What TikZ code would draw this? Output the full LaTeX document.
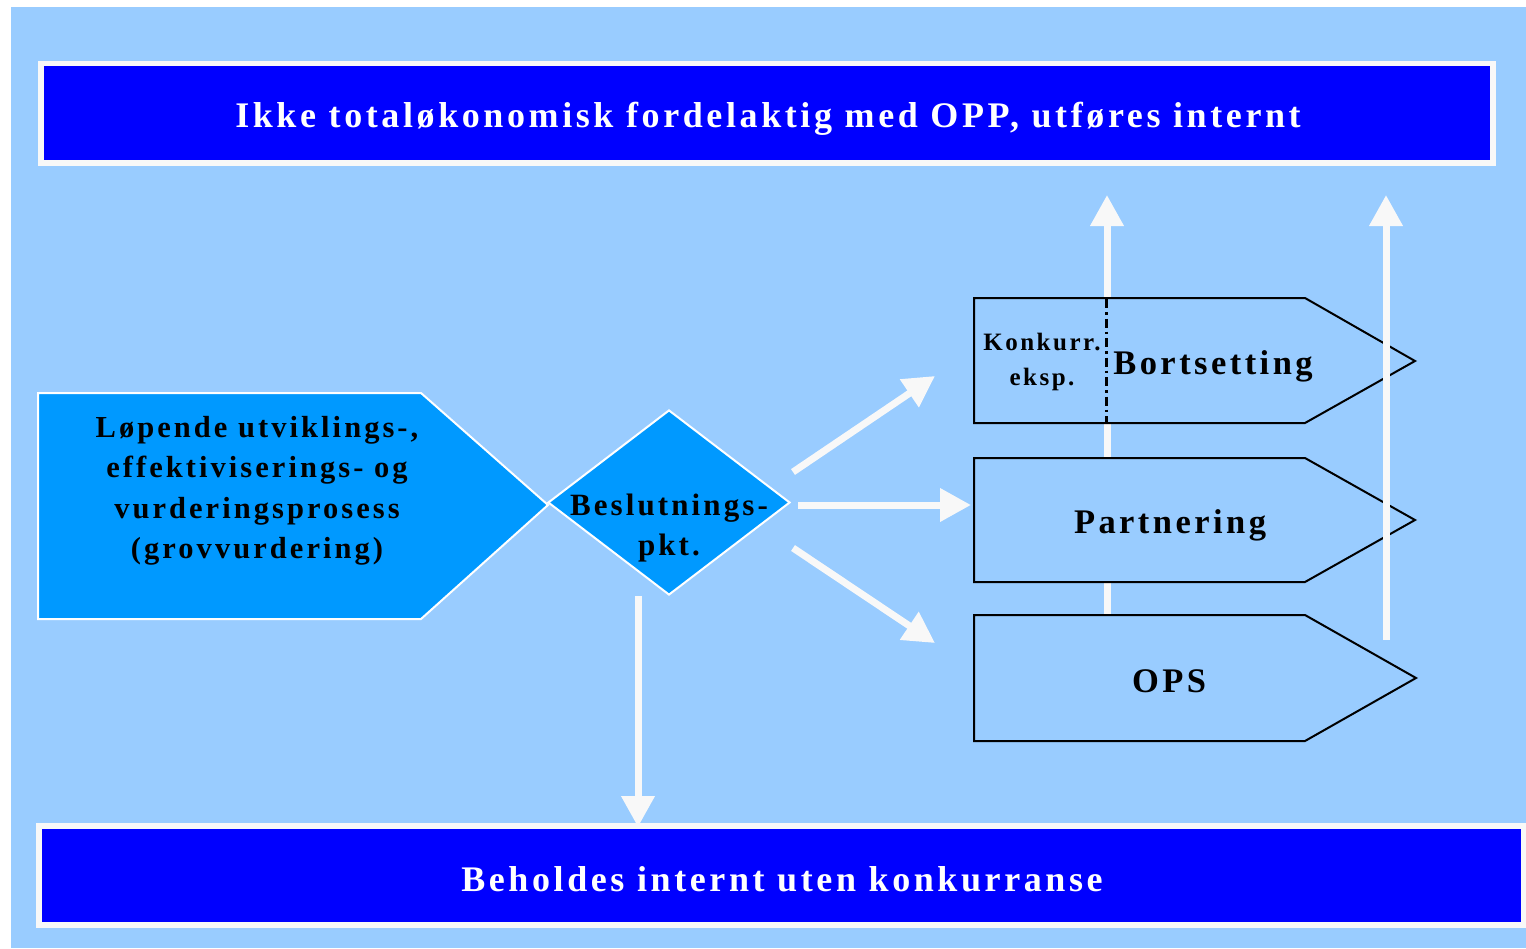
\documentclass[tikz,border=0pt]{standalone}
\usepackage{fontspec}
\setmainfont{Liberation Serif}[LetterSpace=10]
\usetikzlibrary{shapes.geometric,arrows.meta}

\definecolor{bgblue}{HTML}{99CCFF}
\definecolor{barblue}{HTML}{0000FF}
\definecolor{boxblue}{HTML}{0099FF}
\definecolor{arrwhite}{HTML}{F8F8F8}

\begin{document}
\begin{tikzpicture}[x=1pt,y=-1pt,
  bar/.style={fill=barblue,draw=arrwhite,line width=5.5pt},
  bartext/.style={text=white,font=\fontsize{36}{40}\selectfont\bfseries},
  proc/.style={fill=bgblue,draw=black,line width=2pt,line join=miter},
  lbl/.style={font=\fontsize{34.5}{40}\selectfont\bfseries,align=center},
  fat/.style={draw=arrwhite,line width=7pt,-{Triangle[length=31pt,width=32pt]}}]
\useasboundingbox (0,0) rectangle (1526,948);
\fill[bgblue] (11,7) rectangle (1526,948);

% banners
\draw[bar] (41,63.5) rectangle (1493,163);
\node[bartext] (P1) at (768,119) {Ikke totaløkonomisk fordelaktig med OPP, utføres internt};
\draw[bar] (39,826) rectangle (1524,925);
\node[bartext] (P2) at (782,879) {Beholdes internt uten konkurranse};

% left process + decision
\draw[fill=boxblue,draw=white,line width=2pt] (38,393) -- (421,393) -- (548,505) -- (421,619) -- (38,619) -- cycle;
\node[font=\fontsize{30.5}{40.5}\selectfont\bfseries,align=center] (P3) at (257,491)
  {Løpende utviklings-,\\effektiviserings- og\\vurderingsprosess\\(grovvurdering)};
\node[diamond,fill=boxblue,draw=white,line width=2pt,minimum width=242pt,minimum height=185pt,inner sep=0pt] (P4) at (669,502.5) {};
\node[font=\fontsize{31}{40}\selectfont\bfseries,align=center] (P5) at (669,528) {Beslutnings-\\pkt.};

% arrow behind the boxes
\coordinate (A5) at (1107,640);
\coordinate (B5) at (1107,195);
\draw[fat] (A5) -- (B5);

% alternatives
\draw[proc] (974,298) -- (1305,298) -- (1415,361) -- (1305,423) -- (974,423) -- cycle;
\draw[proc] (974,458) -- (1305,458) -- (1415,520) -- (1305,582) -- (974,582) -- cycle;
\draw[proc] (974,615) -- (1305,615) -- (1416,678) -- (1305,741) -- (974,741) -- cycle;
\draw[line width=3pt,dash pattern=on 9pt off 4pt on 2.5pt off 4pt] (1106,299) -- (1106,422);
\node[font=\fontsize{25}{35}\selectfont\bfseries,align=center] (P6) at (1042,362) {Konkurr.\\eksp.};
\node[lbl] (P7) at (1213,366) {Bortsetting};
\node[lbl] (P8) at (1170,525) {Partnering};
\node[lbl] (P9) at (1169,681) {OPS};

% arrows
\coordinate (A1) at (793,472);
\coordinate (B1) at (935,376);
\coordinate (A2) at (798,505);
\coordinate (B2) at (971,505);
\coordinate (A3) at (793,548);
\coordinate (B3) at (935,643);
\coordinate (A4) at (638,596);
\coordinate (B4) at (638,827);
\coordinate (A6) at (1386,640);
\coordinate (B6) at (1386,195);
\draw[fat] (A1) -- (B1);
\draw[fat] (A2) -- (B2);
\draw[fat] (A3) -- (B3);
\draw[fat] (A4) -- (B4);
\draw[fat] (A6) -- (B6);
\end{tikzpicture}
\end{document}
